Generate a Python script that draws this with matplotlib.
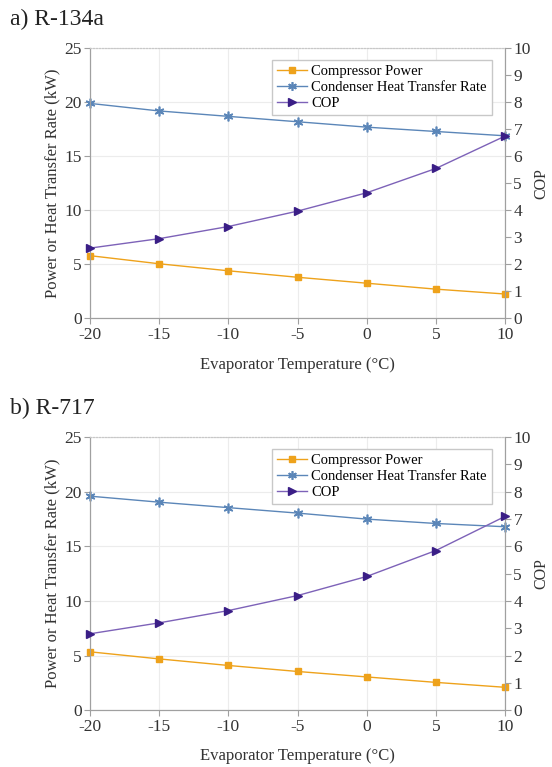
import numpy as np
import matplotlib.pyplot as plt

plt.rcParams['font.family'] = ['Liberation Serif', 'DejaVu Serif']
plt.rcParams['axes.unicode_minus'] = False

temps = [-20, -15, -10, -5, 0, 5, 10]

# a) R-134a
power_a = [5.8, 5.05, 4.4, 3.8, 3.25, 2.7, 2.25]
cond_a = [19.9, 19.2, 18.7, 18.2, 17.7, 17.3, 16.9]
cop_a = [2.6, 2.95, 3.4, 3.97, 4.65, 5.55, 6.75]

# b) R-717
power_b = [5.35, 4.7, 4.1, 3.55, 3.05, 2.55, 2.1]
cond_b = [19.6, 19.05, 18.55, 18.05, 17.5, 17.1, 16.8]
cop_b = [2.8, 3.2, 3.65, 4.2, 4.9, 5.85, 7.1]

titles = ["a) R-134a", "b) R-717"]
orange = '#EEA21B'
blue = '#5B86B8'
purple_line = '#7D62B8'
purple_mk = '#3A1E86'
gray = '#A0A0A0'

fig = plt.figure(figsize=(5.52, 7.67), dpi=100)
rects = [[0.163, 0.585, 0.752, 0.352], [0.163, 0.074, 0.752, 0.356]]
data = [(power_a, cond_a, cop_a), (power_b, cond_b, cop_b)]

for i in range(2):
    ax = fig.add_axes(rects[i])
    pw, cd, cp = data[i]
    ax2 = ax.twinx()
    l1, = ax.plot(temps, pw, color=orange, lw=1, marker='s', ms=5, mfc=orange, mec=orange, clip_on=False, zorder=5)
    l2, = ax.plot(temps, cd, color=blue, lw=1, marker=(6, 2, 0), ms=7, mfc=blue, mec=blue, mew=1.2, clip_on=False, zorder=5)
    l3, = ax2.plot(temps, cp, color=purple_line, lw=1, marker='>', ms=6, mfc=purple_mk, mec=purple_mk, clip_on=False, zorder=5)
    ax.set_xlim(-20, 10)
    ax.set_ylim(0, 25)
    ax2.set_ylim(0, 10)
    ax.set_xticks(temps)
    ax.set_yticks([0, 5, 10, 15, 20, 25])
    ax2.set_yticks(range(11))
    ax.grid(True, color='#ECECEC', lw=0.8)
    for a in (ax, ax2):
        for s in a.spines.values():
            s.set_color(gray)
        a.spines['top'].set_linestyle(':')
        a.spines['top'].set_color('#C8C8C8')
        a.tick_params(colors='#333333', labelsize=12.5, length=4, color=gray, pad=2)
    ax.set_xlabel("Evaporator Temperature (°C)", fontsize=12, color='#333333', labelpad=10)
    ax.set_ylabel("Power or Heat Transfer Rate (kW)", fontsize=12, color='#333333', labelpad=3)
    ax2.set_ylabel("COP", fontsize=11.5, color='#333333', labelpad=2)
    ax.legend([l1, l2, l3], ["Compressor Power", "Condenser Heat Transfer Rate", "COP"],
              loc='upper right', fontsize=10.5, fancybox=False, edgecolor='#C8C8C8',
              handlelength=2.0, handletextpad=0.3, borderpad=0.35, labelspacing=0.2, framealpha=1,
              markerscale=0.9, bbox_to_anchor=(0.985, 0.985))
    fig.text(0.018, rects[i][1] + rects[i][3] + 0.03, titles[i], fontsize=17, color='#222222')

fig.savefig('out.png', dpi=100)
